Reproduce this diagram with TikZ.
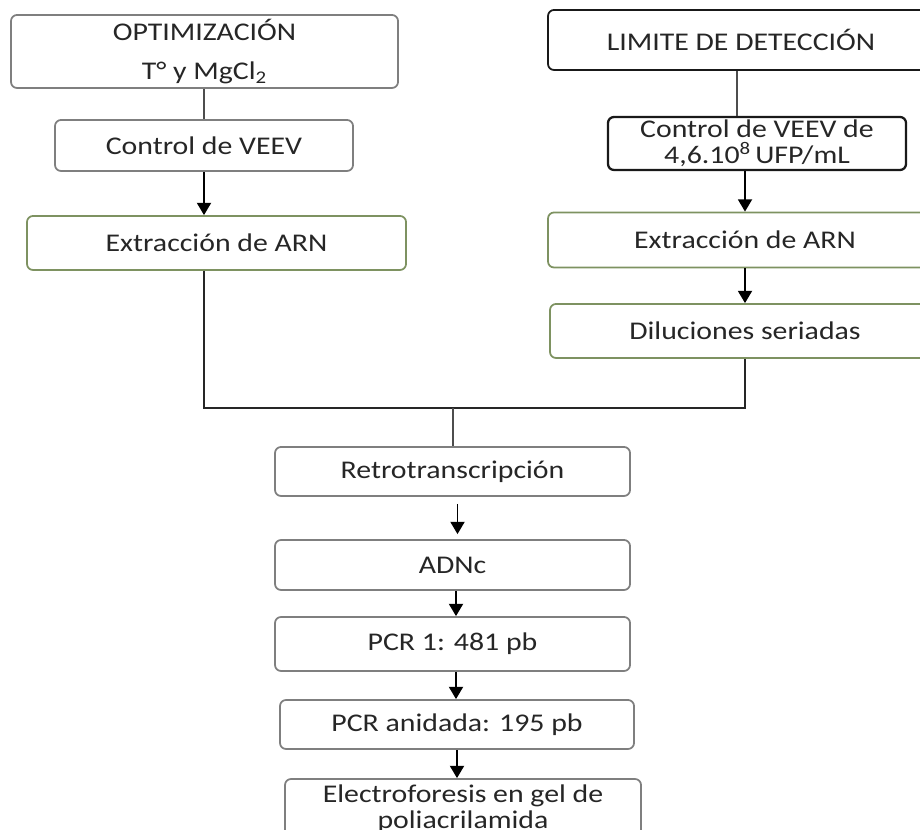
\documentclass[tikz,border=0pt]{standalone}
\usepackage{fontspec}
\setmainfont{Carlito}[FakeStretch=1.17]
\usetikzlibrary{arrows.meta}

\definecolor{boxgray}{HTML}{7F7F7F}
\definecolor{boxgreen}{HTML}{7E9261}
\definecolor{linegray}{HTML}{4D4D4D}

\tikzset{
    stepbox/.style={draw=boxgray, line width=1pt, rounded corners=0.12cm, align=center, inner sep=0pt, text=black!85, font=\fontsize{14.5}{15}\selectfont},
    greenbox/.style={stepbox, draw=boxgreen},
    blackbox/.style={stepbox, draw=black!90},
    link/.style={draw=linegray, line width=0.9pt},
    arr/.style={draw=black, line width=1pt, -{Triangle[width=8pt,length=7pt]}}
}

\begin{document}
\begin{tikzpicture}
        \useasboundingbox (0, 0) rectangle (18.4, 16.58);
        \clip (0, 0) rectangle (18.4, 16.58);

        % Left branch
        \node[stepbox, minimum width=7.74cm, minimum height=1.46cm] (opt) at (4.09, 15.55) {OPTIMIZACIÓN\\[7pt] T° y MgCl\textsubscript{2}};
        \node[stepbox, minimum width=5.96cm, minimum height=1.02cm] (ctrl) at (4.08, 13.67) {Control de VEEV};
        \node[greenbox, minimum width=7.58cm, minimum height=1.08cm] (extl) at (4.33, 11.72) {Extracción de ARN};

        % Right branch
        \node[blackbox, minimum width=7.72cm, minimum height=1.2cm] (lim) at (14.82, 15.78) {LIMITE DE DETECCIÓN};
        \node[blackbox, line width=1.3pt, minimum width=5.96cm, minimum height=1.06cm] (ctrlr) at (15.14, 13.71) {Control de VEEV de\\ 4,6.10\textsuperscript{8}\,UFP/mL};
        \node[greenbox, minimum width=7.88cm, minimum height=1.1cm] (extr) at (14.9, 11.78) {Extracción de ARN};
        \node[greenbox, minimum width=7.8cm, minimum height=1.08cm] (dil) at (14.9, 9.96) {Diluciones seriadas};

        % Common part
        \coordinate (join) at (9.06, 8.42);
        \node[stepbox, minimum width=7.1cm, minimum height=0.98cm] (retro) at (9.05, 7.15) {Retrotranscripción};
        \node[stepbox, minimum width=7.1cm, minimum height=1.0cm] (adnc) at (9.05, 5.28) {ADNc};
        \node[stepbox, minimum width=7.1cm, minimum height=1.08cm] (pcr1) at (9.05, 3.7) {PCR 1: 481 pb};
        \node[stepbox, minimum width=7.08cm, minimum height=0.98cm] (pcr2) at (9.14, 2.09) {PCR anidada: 195 pb};
        \node[stepbox, minimum width=7.12cm, minimum height=1.2cm] (elec) at (9.26, 0.4) {Electroforesis en gel de\\ poliacrilamida};

        % Connectors
        \draw[link] (opt.south -| ctrl.north) -- (ctrl.north);
        \draw[arr] (ctrl.south) -- (ctrl.south |- extl.north);
        \draw[link] ([xshift=-0.16cm]lim.south -| extr.north) -- ([xshift=-0.16cm]extr.north |- ctrlr.north);
        \draw[arr] (ctrlr.south -| extr.north) -- (extr.north);
        \draw[arr] (extr.south) -- (dil.north);
        \draw[link, line width=1.2pt, draw=black!85] (ctrl |- extl.south) -- (ctrl |- join) -- (dil.south |- join) -- (dil.south);
        \draw[link] (join) -- (join |- retro.north);
        \draw[arr, shorten <=0.14cm, shorten >=0.1cm] ([xshift=0.1cm]retro.south) -- ([xshift=0.1cm]adnc.north);
        \draw[arr] ([xshift=0.07cm]adnc.south) -- ([xshift=0.07cm]pcr1.north);
        \draw[arr] ([xshift=0.07cm]pcr1.south) -- ([xshift=0.07cm]pcr2.north -| pcr1.south);
        \draw[arr] (pcr2.south) -- (pcr2.south |- elec.north);
\end{tikzpicture}
\end{document}
